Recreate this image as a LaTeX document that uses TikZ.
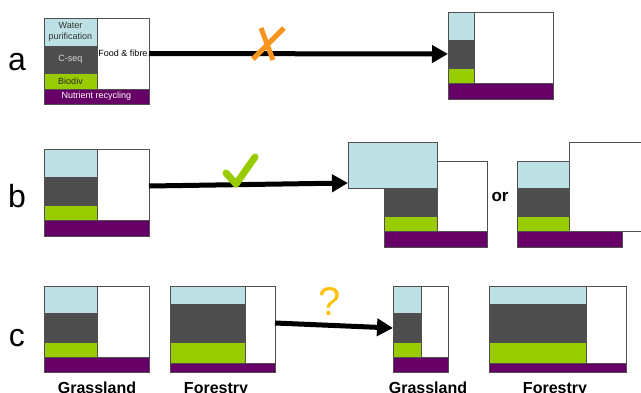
\documentclass[tikz,border=0pt]{standalone}
\usepackage{fontspec}
\setmainfont{Liberation Sans}
\usetikzlibrary{arrows.meta,fit}
\definecolor{wc}{HTML}{BCE0E4}
\definecolor{cc}{HTML}{4D4D4D}
\definecolor{gc}{HTML}{99CC00}
\definecolor{pc}{HTML}{660066}
\definecolor{bd}{HTML}{505050}
\definecolor{oc}{HTML}{F7941D}
\definecolor{qc}{HTML}{FFC000}
\tikzset{
  cell/.style={draw=bd,line width=0.8pt,inner sep=0pt,outer sep=0pt},
  bigarrow/.style={line width=5pt,-{Triangle[length=16pt,width=17pt]}},
  letter/.style={font=\fontsize{32}{36}\selectfont,inner sep=0pt},
  small/.style={font=\fontsize{9}{10.5}\selectfont,align=center,inner sep=0pt},
  bot/.style={font=\fontsize{16}{18}\selectfont\bfseries,inner sep=0pt,anchor=base},
}
\newcommand\stackbox[9]{%
  \node[cell,fill=wc,fit={(#2,#5)(#3,#6)}] (#1w) {};
  \node[cell,fill=cc,fit={(#2,#6)(#3,#7)}] (#1c) {};
  \node[cell,fill=gc,fit={(#2,#7)(#3,#8)}] (#1b) {};
  \node[cell,fill=white,fit={(#3,#5)(#4,#8)}] (#1f) {};
  \node[cell,fill=pc,fit={(#2,#8)(#4,#9)}] (#1n) {};
}
\begin{document}
\begin{tikzpicture}[x=1pt,y=-1pt]
\useasboundingbox (0,0) rectangle (641,392);
% row a
\node[letter] (la) at (17,62) {a};
\stackbox{aL}{44}{97}{149}{18}{46}{73}{89}{104}
\node[small,text=black!80] (tw) at (aLw) {Water\\purification};
\node[small,text=black!15] (tc) at (aLc) {C-seq};
\node[small,text=black!85] (tb) at (aLb) {Biodiv};
\node[small,text=white] (tn) at (aLn) {Nutrient recycling};
\node[small,text=black] (tf) at (aLf) {Food \& fibre};
\stackbox{aR}{448}{474}{553}{12}{40}{68}{83}{99}
\draw[bigarrow] (aLf.east) -- (aRc.west);
\draw[oc,line width=5pt] (284,28) -- (253,59) (261,28) -- (273,60);
% row b
\node[letter] (lb) at (17,196) {b};
\stackbox{bL}{44}{97}{149}{149}{177}{205}{220}{236}
% b right 1
\node[cell,fill=white,fit={(437,161)(487,231)}] (b1f) {};
\node[cell,fill=wc,fit={(348,142)(437,188)}] (b1w) {};
\node[cell,fill=cc,fit={(384,188)(437,216)}] (b1c) {};
\node[cell,fill=gc,fit={(384,216)(437,231)}] (b1b) {};
\node[cell,fill=pc,fit={(384,231)(487,247)}] (b1n) {};
\node[font=\fontsize{17}{20}\selectfont\bfseries,inner sep=0pt] (or) at (500,197) {or};
% b right 2
\node[cell,fill=wc,fit={(517,161)(569,188)}] (b2w) {};
\node[cell,fill=cc,fit={(517,188)(569,216)}] (b2c) {};
\node[cell,fill=gc,fit={(517,216)(569,231)}] (b2b) {};
\node[cell,fill=white,fit={(569,142)(660,231)}] (b2f) {};
\node[cell,fill=pc,fit={(517,231)(622,247)}] (b2n) {};
\coordinate (bS) at (bLf.east |- 0,186);
\coordinate (bE) at (b1w.west |- 0,183);
\draw[bigarrow] (bS) -- (bE);
\draw[gc,line width=7pt,line cap=round,line join=round] (226,173) -- (236,184) -- (255,157);
% row c
\node[letter] (lc) at (17,338) {c};
\stackbox{cG}{44}{97}{149}{286}{313}{342}{357}{372}
\stackbox{cF}{170}{245}{275}{286}{304}{342}{363}{372}
\stackbox{dG}{393}{421}{448}{286}{313}{342}{357}{372}
\stackbox{dF}{489}{586}{626}{286}{304}{342}{363}{372}
\coordinate (cS) at (cFf.east |- 0,323);
\coordinate (cE) at (dGc.west |- 0,328);
\draw[bigarrow] (cS) -- (cE);
\node[text=qc,font=\fontsize{40}{44}\selectfont,inner sep=0pt] (q) at (330,302) {?};
\node[bot] (g1) at (97,393.5) {Grassland};
\node[bot] (f1) at (216,393.5) {Forestry};
\node[bot] (g2) at (428,393.5) {Grassland};
\node[bot] (f2) at (555,393.5) {Forestry};
\end{tikzpicture}
\end{document}
